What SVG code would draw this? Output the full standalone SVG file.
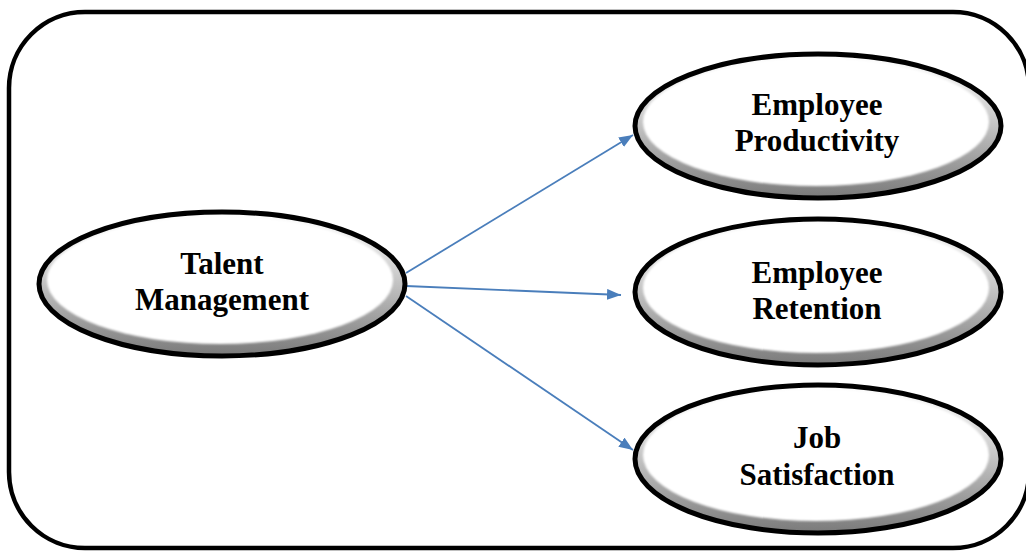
<svg xmlns="http://www.w3.org/2000/svg" width="1026" height="551" viewBox="0 0 1026 551">
  <style>
    .frame { fill: #ffffff; stroke: #000000; stroke-width: 4.5; }
    .outer { fill: url(#bevel); }
    .inner { fill: #ffffff; filter: url(#soft); }
    .rim { fill: none; stroke: #000000; stroke-width: 5; }
    .lbl { font-family: "Liberation Serif", "Times New Roman", serif; font-weight: bold; font-size: 31px; fill: #000000; text-anchor: middle; }
    .conn { stroke: #4a7ebb; stroke-width: 1.8; fill: none; marker-end: url(#arr); }
  </style>
  <defs>
    <linearGradient id="bevel" x1="0" y1="0" x2="0" y2="1">
      <stop offset="0" stop-color="#ffffff"/>
      <stop offset="0.4" stop-color="#d0d0d0"/>
      <stop offset="1" stop-color="#7a7a7a"/>
    </linearGradient>
    <filter id="soft" x="-5%" y="-5%" width="110%" height="110%">
      <feGaussianBlur stdDeviation="1"/>
    </filter>
    <marker id="arr" viewBox="0 0 10 10" refX="10" refY="5" markerWidth="14" markerHeight="11" markerUnits="userSpaceOnUse" orient="auto" preserveAspectRatio="none">
      <path d="M0,0 L10,5 L0,10 z" fill="#4a7ebb"/>
    </marker>
  </defs>

  <rect class="frame" x="9" y="12" width="1020" height="536" rx="76" ry="76"/>

  <g id="connectors">
    <line class="conn" x1="406" y1="273" x2="633" y2="135"/>
    <line class="conn" x1="406" y1="286" x2="621" y2="295"/>
    <line class="conn" x1="406" y1="296" x2="633" y2="450"/>
  </g>

  <g id="talent-management">
    <ellipse class="outer" cx="222" cy="284" rx="183" ry="72"/>
    <ellipse class="inner" cx="220" cy="280" rx="173" ry="64"/>
    <ellipse class="rim" cx="222" cy="284" rx="183" ry="72"/>
    <text class="lbl" x="222" y="274">Talent</text>
    <text class="lbl" x="222" y="310">Management</text>
  </g>

  <g id="employee-productivity">
    <ellipse class="outer" cx="818" cy="126" rx="183" ry="72"/>
    <ellipse class="inner" cx="816" cy="122" rx="173" ry="64"/>
    <ellipse class="rim" cx="818" cy="126" rx="183" ry="72"/>
    <text class="lbl" x="817" y="115">Employee</text>
    <text class="lbl" x="817" y="151">Productivity</text>
  </g>

  <g id="employee-retention">
    <ellipse class="outer" cx="818" cy="292" rx="183" ry="73"/>
    <ellipse class="inner" cx="816" cy="288" rx="173" ry="65"/>
    <ellipse class="rim" cx="818" cy="292" rx="183" ry="73"/>
    <text class="lbl" x="817" y="283">Employee</text>
    <text class="lbl" x="817" y="319">Retention</text>
  </g>

  <g id="job-satisfaction">
    <ellipse class="outer" cx="818" cy="459" rx="183" ry="74"/>
    <ellipse class="inner" cx="816" cy="455" rx="173" ry="66"/>
    <ellipse class="rim" cx="818" cy="459" rx="183" ry="74"/>
    <text class="lbl" x="817" y="448">Job</text>
    <text class="lbl" x="817" y="485">Satisfaction</text>
  </g>
</svg>
